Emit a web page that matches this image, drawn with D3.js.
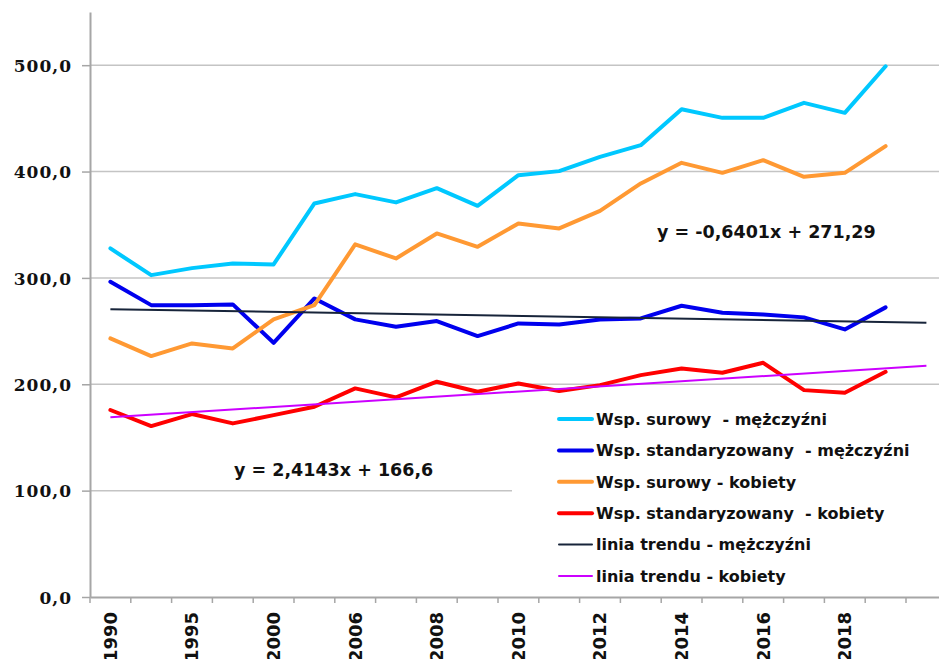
<!DOCTYPE html>
<html lang="pl">
<head>
<meta charset="utf-8">
<title>Współczynniki - mężczyźni i kobiety</title>
<script src="https://cdn.jsdelivr.net/npm/d3@7"></script>
<style>
  body { margin: 0; background: #fff; }
  text { font-family: "DejaVu Sans", Verdana, sans-serif; }
  .ylab text { font-family: "DejaVu Serif", serif; font-weight: bold; font-size: 17px; letter-spacing: 1px; fill: #111; }
  .xlab text { font-weight: bold; font-size: 18px; fill: #111; }
  .eq { font-weight: bold; font-size: 17.5px; fill: #111; }
  .leg text { font-weight: bold; font-size: 16px; fill: #111; white-space: pre; }
</style>
</head>
<body>
<script>
// categories (every other label is shown on the axis)
var years = ["1990","1993","1995","1998","2000","2003","2006","2007","2008","2009",
             "2010","2011","2012","2013","2014","2015","2016","2017","2018","2019"];

// series values
var surowyM = [327.7,302.6,309.2,313.6,312.7,370.0,378.8,371.0,384.4,367.8,
               396.6,400.4,413.8,424.8,458.6,450.5,450.5,464.6,455.2,499.0];
var standM  = [296.4,274.4,274.4,275.1,239.0,280.7,261.0,254.0,259.4,245.3,
               257.2,256.3,261.0,261.9,273.8,267.2,265.7,262.9,251.6,272.3];
var surowyK = [243.1,226.5,238.4,233.7,261.0,274.4,331.5,318.3,341.8,329.2,
               351.2,346.5,363.0,388.8,408.2,398.8,410.7,395.0,398.8,423.9];
var standK  = [175.8,160.7,172.0,163.2,171.0,178.9,196.1,187.7,202.4,193.0,
               200.8,193.6,199.2,208.6,214.9,210.8,220.2,194.5,192.0,211.7];

// trend lines (excel style, x = 1..n, one period forward)
var trendM = { a: -0.6401, b: 271.29, label: "y = -0,6401x + 271,29" };
var trendK = { a: 2.4143,  b: 166.6,  label: "y = 2,4143x + 166,6" };
var nPeriods = 21;

var yTicks = [0, 100, 200, 300, 400, 500];

var w = 939, h = 659;
var svg = d3.select("body").append("svg").attr("width", w).attr("height", h);

var x = d3.scaleBand()
  .domain(d3.range(nPeriods))
  .range([90, 90 + nPeriods * 40.8])
  .padding(0);
var y = d3.scaleLinear().domain([0, 550]).range([597, 12]);

// gridlines
svg.append("g").selectAll("line")
  .data(yTicks.slice(1))
  .enter().append("line")
  .attr("x1", 90).attr("x2", w)
  .attr("y1", function(d){ return y(d); })
  .attr("y2", function(d){ return y(d); })
  .attr("stroke", "#c4c4c4")
  .attr("stroke-width", 1.5);

// y axis
var fmt = d3.format(".1f");
var yAxis = svg.append("g")
  .attr("class", "ylab")
  .attr("transform", "translate(90,0)")
  .call(d3.axisLeft(y).tickValues(yTicks).tickSize(8).tickSizeOuter(0)
    .tickFormat(function(d){ return fmt(d).replace(".", ","); }));
yAxis.select(".domain").attr("stroke", "#a6a6a6").attr("stroke-width", 2);
yAxis.selectAll(".tick line").attr("stroke", "#a6a6a6").attr("stroke-width", 1.5);
yAxis.selectAll(".tick text").attr("x", -18).attr("dy", "0.36em");

// x axis
var xAxis = svg.append("g")
  .attr("class", "xlab")
  .attr("transform", "translate(0,597)")
  .call(d3.axisBottom(x).tickSize(0).tickSizeOuter(0)
    .tickFormat(function(i){ return (i % 2 === 0 && years[i]) ? years[i] : ""; }));
xAxis.select(".domain").attr("stroke", "#a6a6a6").attr("stroke-width", 2);
xAxis.selectAll(".tick text")
  .attr("transform", "rotate(-90)")
  .attr("text-anchor", "end")
  .attr("x", -15)
  .attr("y", 0)
  .attr("dy", "0.36em");

// tick marks at category boundaries
svg.append("g").selectAll("line")
  .data(d3.range(nPeriods + 1))
  .enter().append("line")
  .attr("x1", function(i){ return 90 + i * x.bandwidth(); })
  .attr("x2", function(i){ return 90 + i * x.bandwidth(); })
  .attr("y1", 597).attr("y2", 603)
  .attr("stroke", "#a6a6a6")
  .attr("stroke-width", 1.5);

var cx = function(i){ return x(i) + x.bandwidth() / 2; };
var line = d3.line()
  .x(function(d, i){ return cx(i); })
  .y(function(d){ return y(d); });

var series = [
  { name: "Wsp. surowy  - mężczyźni", values: surowyM, color: "#00c8ff", width: 4 },
  { name: "Wsp. standaryzowany  - mężczyźni", values: standM, color: "#0000ee", width: 4 },
  { name: "Wsp. surowy - kobiety", values: surowyK, color: "#ff9933", width: 4 },
  { name: "Wsp. standaryzowany  - kobiety", values: standK, color: "#ff0000", width: 4 }
];
var trends = [
  { name: "linia trendu - mężczyźni", t: trendM, color: "#17243a", width: 2 },
  { name: "linia trendu - kobiety", t: trendK, color: "#cc00ff", width: 2 }
];

// legend box sits under the lines' area, drawn first so lines stay visible
svg.append("rect")
  .attr("x", 512).attr("y", 398)
  .attr("width", w - 512).attr("height", 194)
  .attr("fill", "#fff");

series.forEach(function(s){
  svg.append("path")
    .datum(s.values)
    .attr("d", line)
    .attr("fill", "none")
    .attr("stroke", s.color)
    .attr("stroke-width", s.width)
    .attr("stroke-linejoin", "round")
    .attr("stroke-linecap", "round");
});

trends.forEach(function(tr){
  var pts = [1, nPeriods];
  svg.append("line")
    .attr("x1", cx(pts[0] - 1)).attr("y1", y(tr.t.a * pts[0] + tr.t.b))
    .attr("x2", cx(pts[1] - 1)).attr("y2", y(tr.t.a * pts[1] + tr.t.b))
    .attr("stroke", tr.color)
    .attr("stroke-width", tr.width);
});

// equations
svg.append("text").attr("class", "eq")
  .attr("x", 657).attr("y", 238)
  .text(trendM.label);
svg.append("text").attr("class", "eq")
  .attr("x", 234).attr("y", 476)
  .text(trendK.label);

// legend
var legItems = series.concat(trends);
var leg = svg.append("g").attr("class", "leg")
  .selectAll("g")
  .data(legItems)
  .enter().append("g")
  .attr("transform", function(d, i){ return "translate(559," + (419 + i * 31.4) + ")"; });
leg.append("line")
  .attr("x1", 0).attr("x2", 33)
  .attr("stroke", function(d){ return d.color; })
  .attr("stroke-width", function(d){ return d.width; })
  .attr("stroke-linecap", "round");
leg.append("text")
  .attr("x", 37).attr("dy", "0.36em")
  .text(function(d){ return d.name; });
</script>
</body>
</html>
